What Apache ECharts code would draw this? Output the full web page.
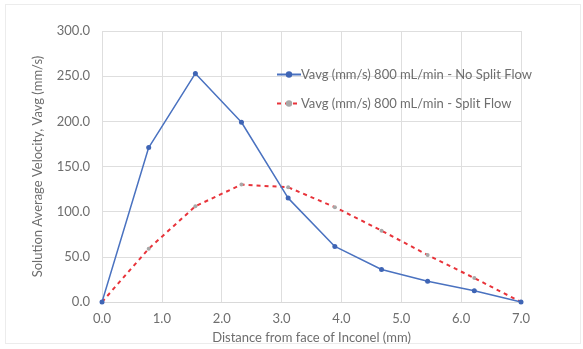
<!DOCTYPE html>
<html>
<head>
<meta charset="utf-8">
<script src="https://cdn.jsdelivr.net/npm/echarts@6/dist/echarts.min.js"></script>
<style>
  html, body { margin: 0; padding: 0; background: #fff; }
  #frame { position: absolute; left: 5px; top: 4px; width: 574px; height: 338px; border: 1px solid #ececec; }
  #chart { position: absolute; left: 0; top: 0; width: 583px; height: 349px; }
</style>
</head>
<body>
<div id="frame"></div>
<div id="chart"></div>
<script>
// distance from face of Inconel (mm)
const distance = [0, 0.78, 1.56, 2.33, 3.11, 3.89, 4.67, 5.44, 6.22, 7.0];
// Vavg (mm/s) 800 mL/min
const noSplitFlow = [0, 171, 253, 199, 115, 61.5, 36, 23, 12.5, 0];
const splitFlow = [0, 59, 106, 130, 127, 105, 79, 52, 26.5, 0];

const nameNoSplit = 'Vavg (mm/s) 800 mL/min - No Split Flow';
const nameSplit = 'Vavg (mm/s) 800 mL/min - Split Flow';

const pair = (xs, ys) => xs.map((x, i) => [x, ys[i]]);

const textColor = '#6e6e6e';
const font = 'Lato';

const chart = echarts.init(document.getElementById('chart'));
chart.setOption({
  animation: false,
  backgroundColor: 'transparent',
  textStyle: { fontFamily: font },
  grid: { left: 102, right: 62, top: 31, bottom: 47 },
  legend: {
    orient: 'vertical',
    left: 271,
    top: 63,
    itemGap: 16,
    itemWidth: 24,
    itemHeight: 8,
    textStyle: { color: textColor, fontSize: 13, fontFamily: font, padding: [0, 0, 0, -5] },
    data: [nameNoSplit, nameSplit],
  },
  xAxis: {
    type: 'value',
    min: 0,
    max: 7,
    interval: 1,
    name: 'Distance from face of Inconel (mm)',
    nameLocation: 'middle',
    nameGap: 29,
    nameTextStyle: { color: textColor, fontSize: 13, fontFamily: font },
    axisLine: { show: true, lineStyle: { color: '#d9d9d9' } },
    axisTick: { show: false },
    axisLabel: {
      color: textColor,
      fontSize: 13,
      margin: 10,
      formatter: (v) => v.toFixed(1),
    },
    splitLine: { show: true, lineStyle: { color: '#dedede' } },
  },
  yAxis: {
    type: 'value',
    min: 0,
    max: 300,
    interval: 50,
    name: 'Solution Average Velocity, Vavg (mm/s)',
    nameLocation: 'middle',
    nameGap: 58,
    nameTextStyle: { color: textColor, fontSize: 13, fontFamily: font },
    axisLine: { show: false },
    axisTick: { show: false },
    axisLabel: {
      color: textColor,
      fontSize: 13,
      margin: 12,
      formatter: (v) => v.toFixed(1),
    },
    splitLine: { show: true, lineStyle: { color: '#dedede' } },
  },
  series: [
    {
      name: nameNoSplit,
      type: 'line',
      data: pair(distance, noSplitFlow),
      symbol: 'circle',
      symbolSize: 5,
      lineStyle: { color: '#4a72c0', width: 1.5 },
      itemStyle: { color: '#3f65b5' },
      z: 3,
    },
    {
      name: nameSplit,
      type: 'line',
      data: pair(distance, splitFlow),
      symbol: 'circle',
      symbolSize: 4,
      lineStyle: { color: '#e8333a', width: 2, type: [4, 4] },
      itemStyle: { color: '#a8a8a8' },
      z: 2,
    },
  ],
});
</script>
</body>
</html>
